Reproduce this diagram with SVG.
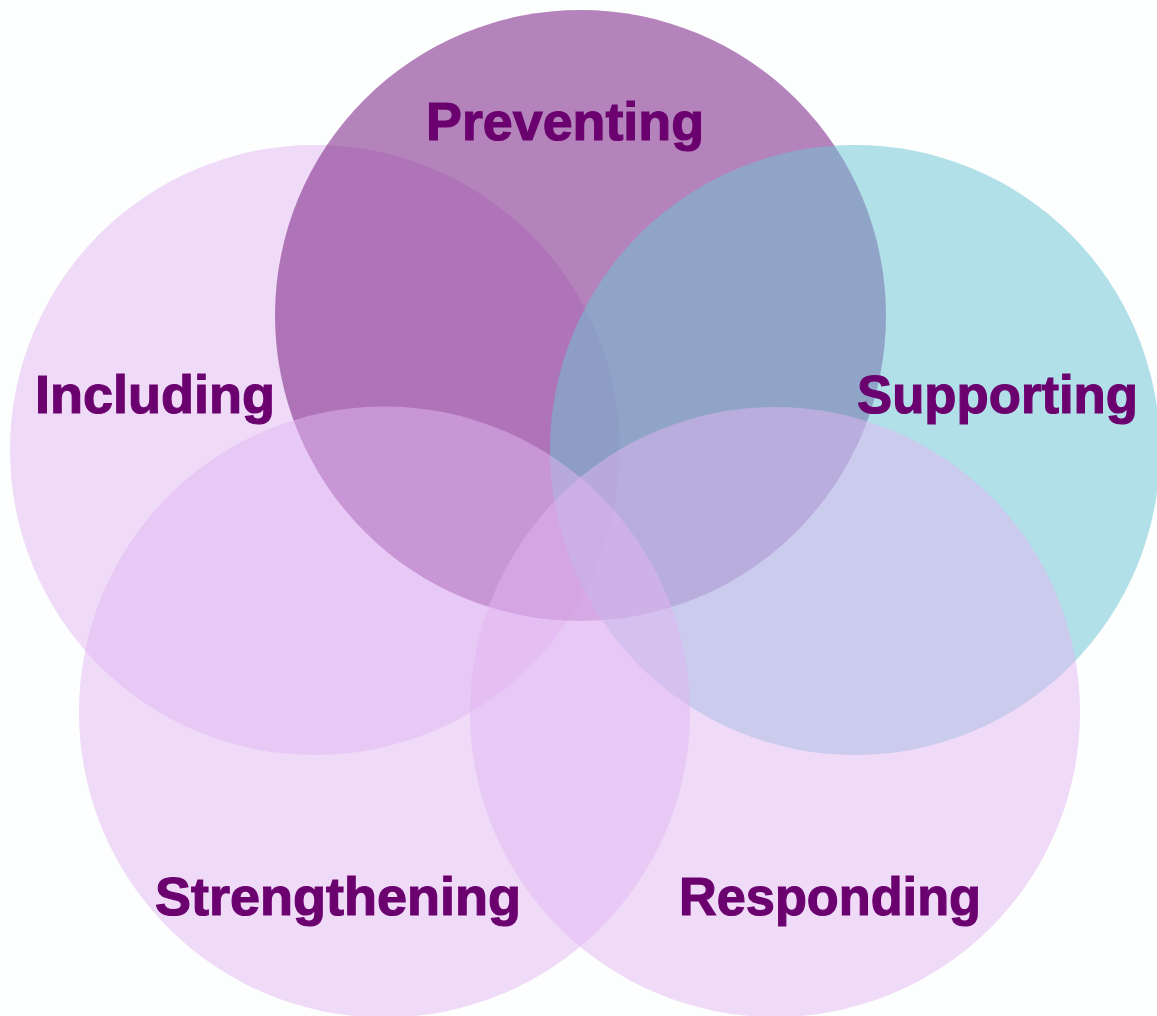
<svg xmlns="http://www.w3.org/2000/svg" width="1157" height="1016" viewBox="0 0 1157 1016">
<style>
.pink{fill:#e2b6f2;fill-opacity:0.5}
.plum{fill:#84308e;fill-opacity:0.6}
.teal{fill:#6dc3d3;fill-opacity:0.52}
.lbl{font-family:"Liberation Sans",Arial,sans-serif;font-weight:bold;font-size:54px;fill:#6b006f;stroke:#6b006f;stroke-width:1.2px}
</style>
<rect width="1157" height="1016" fill="#fdfefe"/>
<g id="including"><circle class="pink" cx="315" cy="450" r="305"/></g>
<g id="preventing"><circle class="plum" cx="580.5" cy="315.5" r="305.5"/></g>
<g id="supporting"><circle class="teal" cx="855" cy="450" r="305"/></g>
<g id="strengthening"><circle class="pink" cx="384.5" cy="712" r="305.5"/></g>
<g id="responding"><circle class="pink" cx="775" cy="712" r="305"/></g>
<g id="connectors"></g>
<g id="labels">
<text class="lbl" x="426" y="140" textLength="278" lengthAdjust="spacingAndGlyphs">Preventing</text>
<text class="lbl" x="35" y="413" textLength="240" lengthAdjust="spacingAndGlyphs">Including</text>
<text class="lbl" x="857" y="413" textLength="281" lengthAdjust="spacingAndGlyphs">Supporting</text>
<text class="lbl" x="155" y="915" textLength="366" lengthAdjust="spacingAndGlyphs">Strengthening</text>
<text class="lbl" x="679" y="915" textLength="302" lengthAdjust="spacingAndGlyphs">Responding</text>
</g>
</svg>
